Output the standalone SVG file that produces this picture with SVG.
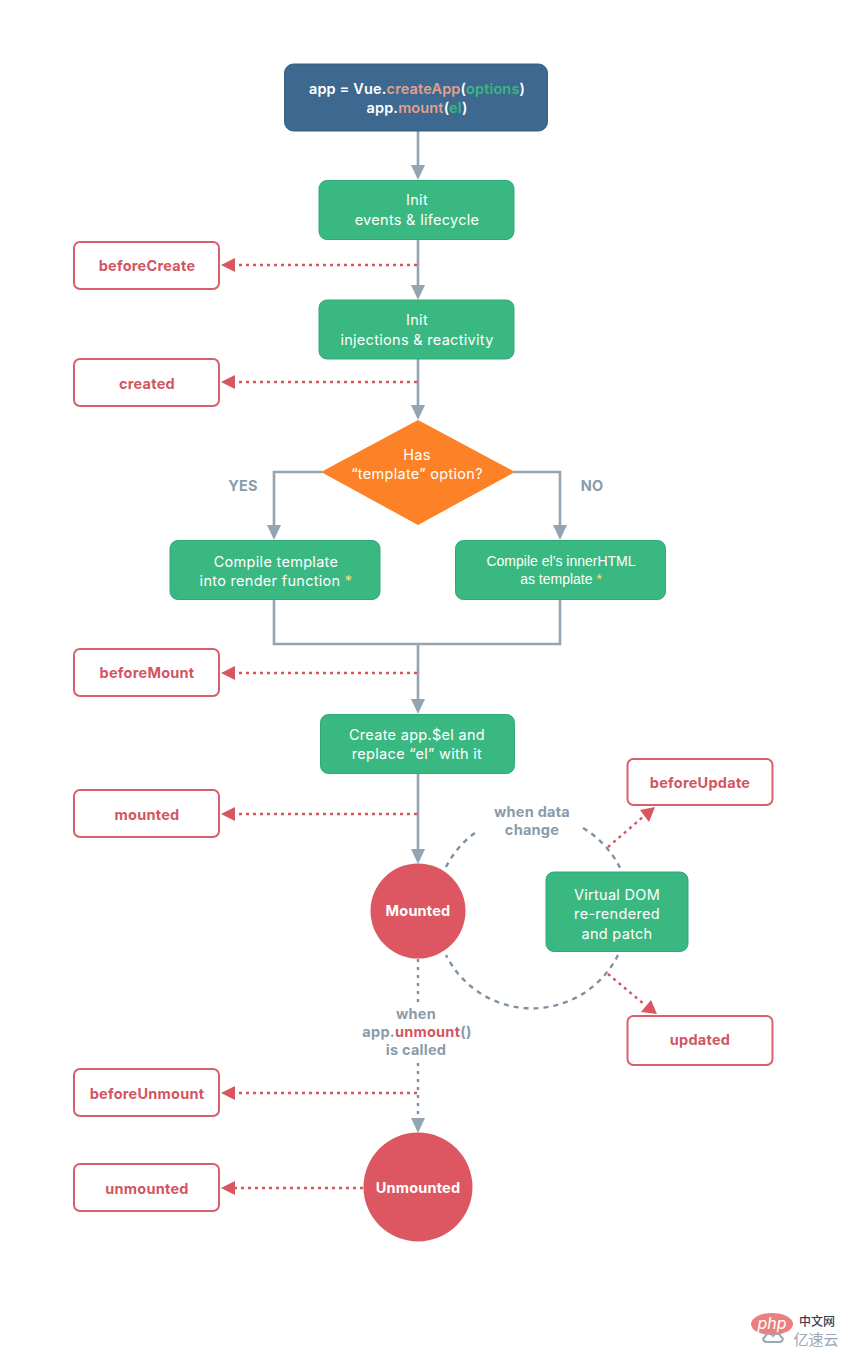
<svg xmlns="http://www.w3.org/2000/svg" width="850" height="1357" viewBox="0 0 850 1357">
<style>
text{font-family:Inter,"Noto Sans",sans-serif;text-anchor:middle}
.g{fill:#3ab881;stroke:#2fa876;stroke-width:1}
.h{fill:#fff;stroke:#d9606b;stroke-width:2}
.ht{fill:#d2555f;font-size:14.500px;font-weight:700;letter-spacing:.25px}
.w{fill:#fff;font-size:14.500px;letter-spacing:.3px}
.wb{fill:#fff;font-size:14.500px;font-weight:700;letter-spacing:.2px}
.l{fill:#8a9bab;font-size:14.500px;font-weight:700;letter-spacing:.25px}
.c{fill:none;stroke:#93a4b2;stroke-width:2.600}
.d{fill:none;stroke:#d2555f;stroke-width:2.400;stroke-dasharray:3 4}
.a{fill:#93a4b2}
.r{fill:#d9555f}
.v{fill:none;stroke:#7f91a0;stroke-width:2.400;stroke-dasharray:5 5}
</style>
<rect width="850" height="1357" fill="#fff"/>
<g id="connectors">
<path class="c" d="M418 131V166M418 239V286M418 358V406M322 472H274V526M514 472H560V526M274 599V644H560V599M418 644V700M418 773V850"/>
<path class="v" style="stroke-dasharray:3 5" d="M418 959V1119"/>
<polygon class="a" points="411,165 425,165 418,180"/>
<polygon class="a" points="411,285 425,285 418,300"/>
<polygon class="a" points="411,405 425,405 418,420"/>
<polygon class="a" points="267,525 281,525 274,540"/>
<polygon class="a" points="553,525 567,525 560,540"/>
<polygon class="a" points="411,699 425,699 418,714"/>
<polygon class="a" points="411,849 425,849 418,864"/>
<polygon class="a" points="411,1118 425,1118 418,1133"/>
<path class="d" d="M417 265H234M417 382H234M417 673H234M417 814H234M417 1093H234M363 1188H234M608 847L644 816M608 974L645 1005"/>
<polygon class="r" points="221,265 235,258 235,272"/>
<polygon class="r" points="221,382 235,375 235,389"/>
<polygon class="r" points="221,673 235,666 235,680"/>
<polygon class="r" points="221,814 235,807 235,821"/>
<polygon class="r" points="221,1093 235,1086 235,1100"/>
<polygon class="r" points="221,1188 235,1181 235,1195"/>
<polygon class="r" points="655,807 640,810 649,822"/>
<polygon class="r" points="657,1014 651,1000 641,1012"/>
<path class="v" d="M446 867A96 96 0 0 1 479 830M583 828A96 96 0 0 1 622 872M618 955A96 96 0 0 1 446 955"/>
</g>
<g id="start"><rect x="284.500" y="64" width="263" height="67" rx="9" fill="#3d6890" stroke="#35607f"/>
<text x="417" y="93.500" class="wb" style="font-weight:600;letter-spacing:.15px"><tspan>app = Vue.</tspan><tspan fill="#e3a08c">createApp</tspan><tspan>(</tspan><tspan fill="#3ab881">options</tspan><tspan>)</tspan></text>
<text x="417" y="113" class="wb" style="font-weight:600;letter-spacing:.15px"><tspan>app.</tspan><tspan fill="#e3a08c">mount</tspan><tspan>(</tspan><tspan fill="#3ab881">el</tspan><tspan>)</tspan></text></g>
<g id="init-events"><rect class="g" x="319" y="180.500" width="195" height="59" rx="8"/><text class="w" x="417" y="205">Init</text><text class="w" x="417" y="225">events &amp; lifecycle</text></g>
<g id="init-injections"><rect class="g" x="319" y="300" width="195" height="59" rx="8"/><text class="w" x="417" y="325">Init</text><text class="w" x="417" y="344.500">injections &amp; reactivity</text></g>
<g id="has-template"><polygon points="418,420 515,472 418,525 321,472" fill="#fd8127"/><text class="w" x="417" y="460">Has</text><text class="w" x="417" y="479">“template” option?</text></g>
<text class="l" x="243" y="490.500">YES</text><text class="l" x="592" y="490.500">NO</text>
<g id="compile-template"><rect class="g" x="170" y="540.500" width="210" height="59" rx="8"/><text class="w" x="276" y="566.500">Compile template</text><text class="w" x="276" y="586">into render function <tspan fill="#f2e27a">*</tspan></text></g>
<g id="compile-el"><rect class="g" x="455.500" y="540.500" width="210" height="59" rx="8"/><text class="w" style="font-family:'Liberation Sans',sans-serif;font-size:14px;letter-spacing:0" x="561" y="565.500">Compile el’s innerHTML</text><text class="w" style="font-family:'Liberation Sans',sans-serif;font-size:14px;letter-spacing:0" x="561" y="584">as template <tspan fill="#f2e27a">*</tspan></text></g>
<g id="create-el"><rect class="g" x="320.500" y="714.500" width="194" height="59" rx="8"/><text class="w" x="417" y="739.500">Create app.$el and</text><text class="w" x="417" y="759">replace “el” with it</text></g>
<g id="virtual-dom"><rect class="g" x="546" y="872" width="142" height="79.500" rx="8"/><text class="w" x="617" y="899.500">Virtual DOM</text><text class="w" x="617" y="919">re-rendered</text><text class="w" x="617" y="939">and patch</text></g>
<g id="mounted"><circle cx="418" cy="911" r="47.500" fill="#dc5761"/><text class="wb" x="418" y="916">Mounted</text></g>
<g id="unmounted"><circle cx="418" cy="1187" r="54.500" fill="#dc5761"/><text class="wb" x="418" y="1192.500">Unmounted</text></g>
<g id="beforeCreate"><rect class="h" x="74" y="242" width="145" height="47" rx="6"/><text class="ht" x="147" y="271">beforeCreate</text></g>
<g id="created"><rect class="h" x="74" y="359" width="145" height="47" rx="6"/><text class="ht" x="147" y="388.500">created</text></g>
<g id="beforeMount"><rect class="h" x="74" y="649" width="145" height="47" rx="6"/><text class="ht" x="147" y="678">beforeMount</text></g>
<g id="mounted-hook"><rect class="h" x="74" y="790" width="145" height="47" rx="6"/><text class="ht" x="147" y="819.500">mounted</text></g>
<g id="beforeUnmount"><rect class="h" x="74" y="1069" width="145" height="47" rx="6"/><text class="ht" x="147" y="1098.500">beforeUnmount</text></g>
<g id="unmounted-hook"><rect class="h" x="74" y="1164" width="145" height="47" rx="6"/><text class="ht" x="147" y="1193.500">unmounted</text></g>
<g id="beforeUpdate"><rect class="h" x="627.500" y="759" width="145" height="46" rx="6"/><text class="ht" x="700" y="787.500">beforeUpdate</text></g>
<g id="updated"><rect class="h" x="627.500" y="1016" width="145" height="49" rx="6"/><text class="ht" x="700" y="1045">updated</text></g>
<text class="l" x="532" y="816.500">when data</text><text class="l" x="532" y="834.500">change</text>
<rect x="355" y="1002" width="126" height="56" fill="#fff"/>
<text class="l" x="416" y="1019">when</text>
<text class="l" x="417" y="1037">app.<tspan fill="#d2555f">unmount</tspan>()</text>
<text class="l" x="416" y="1055">is called</text>
<g id="watermark">
<ellipse cx="772" cy="1324" rx="21" ry="11" fill="#e9807f"/>
<text x="772" y="1329" fill="#fff" style="font-size:16px;font-style:italic">php</text>
<text x="817" y="1326" fill="#3a3f4a" style="font-family:'Noto Sans CJK SC',sans-serif;font-size:12px;font-weight:500">中文网</text>
<text x="816" y="1345" fill="#9ca7b4" style="font-family:'Noto Sans CJK SC',sans-serif;font-size:15px">亿速云</text>
<path d="M767 1342c-4 0-5-4-2-5 1-4 6-4 8-1 2-3 7-3 8 1 3 1 2 5-2 5z" fill="none" stroke="#9ca7b4" stroke-width="2"/>
</g>
</svg>
